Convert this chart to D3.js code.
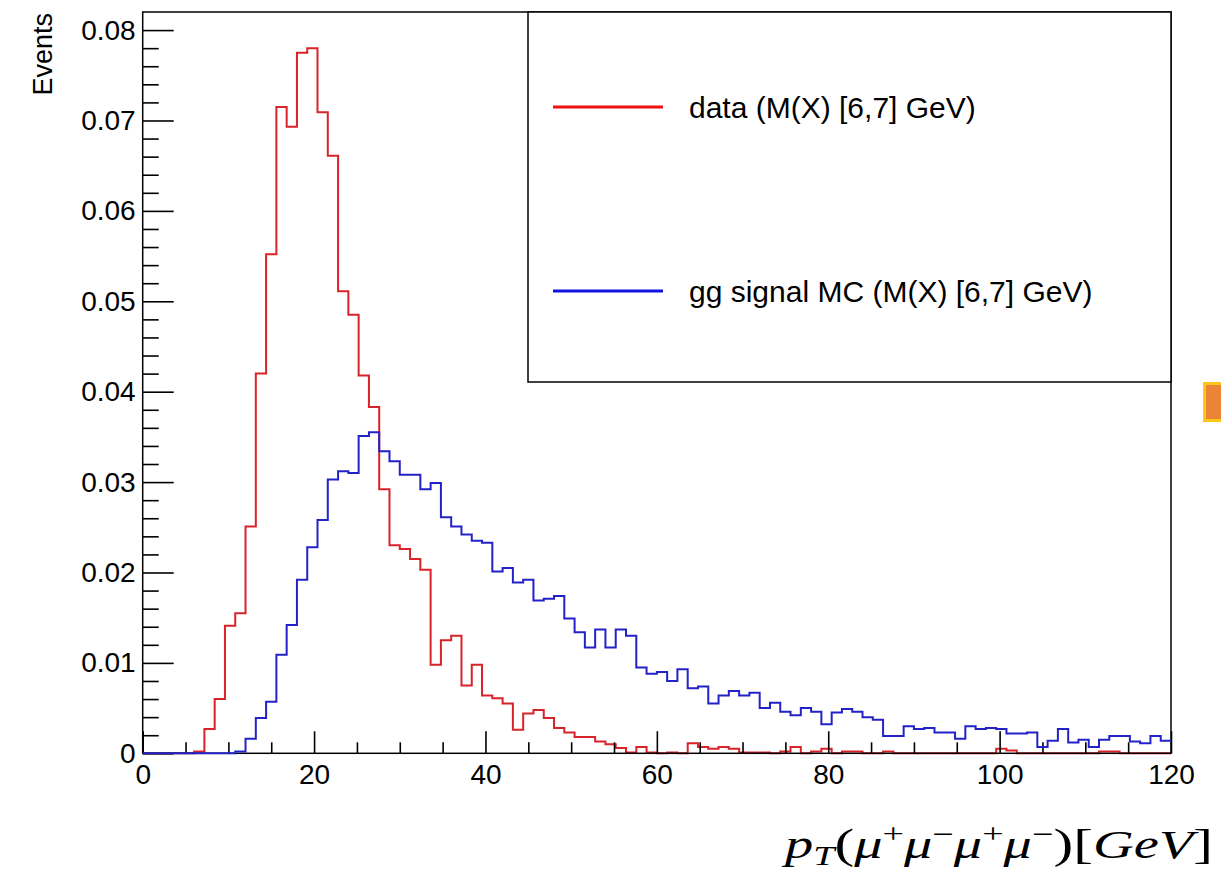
<!DOCTYPE html>
<html>
<head>
<meta charset="utf-8">
<script src="https://cdn.jsdelivr.net/npm/d3@7/dist/d3.min.js"></script>
<style>
  body { margin: 0; background: #fff; }
  svg { display: block; font-family: "Liberation Sans", Arial, Helvetica, sans-serif; }
</style>
</head>
<body>
<div class="chart"></div>
<script>
// histogram binning: 100 bins over [0, 120] GeV
var xMin = 0, xMax = 120, nBins = 100;

// data (M(X) [6,7] GeV), normalised entries per bin
var dataValues = [
  0, 0, 0, 0, 0, 0.0002, 0.0027, 0.0060, 0.0141, 0.0155,
  0.0251, 0.0420, 0.0552, 0.0715, 0.0693, 0.0775, 0.0780, 0.0709, 0.0661, 0.0511,
  0.0485, 0.0418, 0.0383, 0.0292, 0.0230, 0.0226, 0.0215, 0.0203, 0.0098, 0.0125,
  0.0130, 0.0075, 0.0098, 0.0064, 0.0061, 0.0055, 0.0026, 0.0044, 0.0048, 0.0039,
  0.0028, 0.0023, 0.0018, 0.0018, 0.0013, 0.0010, 0.0006, 0.0001, 0.0007, 0.0001,
  0, 0.0001, 0, 0.0011, 0.0007, 0.0005, 0.0007, 0.0005, 0.0001, 0.0001,
  0.0001, 0, 0.0002, 0.0007, 0, 0.0002, 0.0005, 0, 0.0002, 0.0002,
  0, 0, 0.0002, 0, 0, 0, 0, 0, 0, 0,
  0, 0, 0, 0.0005, 0.0003, 0, 0, 0, 0, 0,
  0, 0, 0, 0.0002, 0.0002, 0, 0, 0, 0, 0
];

// gg signal MC (M(X) [6,7] GeV)
var mcValues = [
  0, 0, 0, 0, 0, 0, 0, 0, 0, 0.0002,
  0.0016, 0.0039, 0.0057, 0.0109, 0.0142, 0.0192, 0.0228, 0.0258, 0.0303, 0.0312,
  0.0310, 0.0351, 0.0355, 0.0334, 0.0323, 0.0308, 0.0308, 0.0292, 0.0299, 0.0261,
  0.0251, 0.0242, 0.0235, 0.0233, 0.0201, 0.0205, 0.0189, 0.0192, 0.0169, 0.0171,
  0.0174, 0.0149, 0.0134, 0.0117, 0.0137, 0.0117, 0.0137, 0.0130, 0.0095, 0.0088,
  0.0090, 0.0080, 0.0093, 0.0072, 0.0074, 0.0055, 0.0064, 0.0069, 0.0064, 0.0067,
  0.0050, 0.0056, 0.0046, 0.0042, 0.0050, 0.0046, 0.0032, 0.0045, 0.0049, 0.0046,
  0.0040, 0.0037, 0.0019, 0.0019, 0.0030, 0.0027, 0.0028, 0.0023, 0.0023, 0.0016,
  0.0030, 0.0027, 0.0028, 0.0027, 0.0022, 0.0022, 0.0023, 0.0007, 0.0014, 0.0027,
  0.0012, 0.0015, 0.0007, 0.0015, 0.0019, 0.0019, 0.0013, 0.0011, 0.0019, 0.0014
];

var xMajorTicks = [0, 20, 40, 60, 80, 100, 120];
var xMinorTicks = [5, 10, 15, 25, 30, 35, 45, 50, 55, 65, 70, 75, 85, 90, 95, 105, 110, 115];
var yMajorTicks = [0, 0.01, 0.02, 0.03, 0.04, 0.05, 0.06, 0.07, 0.08];
var yMinorTicks = [
  0.002, 0.004, 0.006, 0.008, 0.012, 0.014, 0.016, 0.018,
  0.022, 0.024, 0.026, 0.028, 0.032, 0.034, 0.036, 0.038,
  0.042, 0.044, 0.046, 0.048, 0.052, 0.054, 0.056, 0.058,
  0.062, 0.064, 0.066, 0.068, 0.072, 0.074, 0.076, 0.078
];
var yMax = 0.0820;

var legendLabels = ['data (M(X) [6,7] GeV)', 'gg signal MC (M(X) [6,7] GeV)'];

var width = 1221, height = 876;
var frame = { left: 142.7, right: 1171, top: 12, bottom: 753.3 };

var svg = d3.select('.chart').append('svg')
  .attr('width', width)
  .attr('height', height);

var x = d3.scaleLinear().domain([xMin, xMax]).range([frame.left, frame.right]);
var y = d3.scaleLinear().domain([0, yMax]).range([frame.bottom, frame.top]);

var binWidth = (xMax - xMin) / nBins;

// step points: left edge of each bin, plus closing point at xMax
function stepPoints(values) {
  var pts = values.map(function(v, i) { return [xMin + i * binWidth, v]; });
  pts.push([xMax, values[values.length - 1]]);
  return pts;
}

var histLine = d3.line()
  .x(function(d) { return x(d[0]); })
  .y(function(d) { return y(d[1]); })
  .curve(d3.curveStepAfter);

// red first, frame over it, blue on top (as ROOT draws "same")
svg.append('path')
  .attr('class', 'hist data')
  .attr('d', histLine(stepPoints(dataValues)))
  .attr('fill', 'none')
  .attr('stroke', '#d8232a')
  .attr('stroke-width', 2);

svg.append('rect')
  .attr('class', 'frame')
  .attr('x', frame.left)
  .attr('y', frame.top)
  .attr('width', frame.right - frame.left)
  .attr('height', frame.bottom - frame.top)
  .attr('fill', 'none')
  .attr('stroke', '#000')
  .attr('stroke-width', 1.5);

function styleAxis(g) {
  g.select('.domain').remove();
  g.selectAll('.tick line').attr('stroke', '#000').attr('stroke-width', 1.6);
  g.selectAll('.tick text')
    .attr('fill', '#000')
    .style('font-size', '28px');
}

svg.append('g')
  .attr('transform', 'translate(0,' + frame.bottom + ')')
  .call(d3.axisBottom(x).tickValues(xMinorTicks).tickSize(-11).tickFormat(''))
  .call(styleAxis);

svg.append('g')
  .attr('transform', 'translate(0,' + frame.bottom + ')')
  .call(d3.axisBottom(x).tickValues(xMajorTicks).tickSize(-22).tickPadding(11)
    .tickFormat(d3.format('d')))
  .call(styleAxis);

svg.append('g')
  .attr('transform', 'translate(' + frame.left + ',0)')
  .call(d3.axisLeft(y).tickValues(yMinorTicks).tickSize(-16).tickFormat(''))
  .call(styleAxis);

svg.append('g')
  .attr('transform', 'translate(' + frame.left + ',0)')
  .call(d3.axisLeft(y).tickValues(yMajorTicks).tickSize(-31).tickPadding(7)
    .tickFormat(function(d) { return d === 0 ? '0' : d3.format('.2f')(d); }))
  .call(styleAxis);

svg.append('path')
  .attr('class', 'hist mc')
  .attr('d', histLine(stepPoints(mcValues)))
  .attr('fill', 'none')
  .attr('stroke', '#2222c8')
  .attr('stroke-width', 2);

// y title
svg.append('text')
  .attr('transform', 'translate(52,13) rotate(-90)')
  .attr('text-anchor', 'end')
  .style('font-size', '27px')
  .text('Events');

// x title, math style
var xTitle = svg.append('text')
  .attr('x', 0)
  .attr('y', 0)
  .style('font-family', '"Liberation Serif", "DejaVu Serif", serif')
  .style('font-style', 'italic')
  .style('font-size', '40px');

var titleParts = [
  { t: 'p' }, { t: 'T', sub: true },
  { t: '(', up: true }, { t: 'μ' }, { t: '+', sup: true },
  { t: 'μ' }, { t: '−', sup: true },
  { t: 'μ' }, { t: '+', sup: true },
  { t: 'μ' }, { t: '−', sup: true },
  { t: ')', up: true }, { t: '[', up: true }, { t: 'GeV' }, { t: ']', up: true }
];
var shift = 0;
titleParts.forEach(function(p) {
  var s = p.sub ? 7 : (p.sup ? -15 : 0);
  var ts = xTitle.append('tspan').attr('dy', s - shift).text(p.t);
  shift = s;
  if (p.sub || p.sup) ts.style('font-size', '27px').style('font-style', p.sup ? 'normal' : 'italic');
  if (p.up) ts.style('font-style', 'normal').style('font-size', '42px');
});
var tw = xTitle.node().getComputedTextLength();
xTitle.attr('transform', 'translate(785,858) scale(' + (428 / tw) + ',1)');

// legend
var legend = svg.append('g').attr('class', 'legend');
legend.append('rect')
  .attr('x', 528)
  .attr('y', frame.top)
  .attr('width', frame.right - 528)
  .attr('height', 382 - frame.top)
  .attr('fill', '#fff')
  .attr('stroke', '#000')
  .attr('stroke-width', 1.5);

var legendColors = ['#ee1111', '#1111e0'];
var legendY = [107, 291];
legendLabels.forEach(function(label, i) {
  legend.append('line')
    .attr('x1', 553).attr('x2', 663)
    .attr('y1', legendY[i]).attr('y2', legendY[i])
    .attr('stroke', legendColors[i])
    .attr('stroke-width', 3);
  legend.append('text')
    .attr('x', 689)
    .attr('y', legendY[i])
    .attr('dy', '0.35em')
    .style('font-size', '30px')
    .text(label);
});

// stray marker at right edge of the screenshot
svg.append('rect')
  .attr('x', 1204.5).attr('y', 383.5)
  .attr('width', 20).attr('height', 37)
  .attr('fill', '#ec8435')
  .attr('stroke', '#ffc519')
  .attr('stroke-width', 3);
</script>
</body>
</html>
